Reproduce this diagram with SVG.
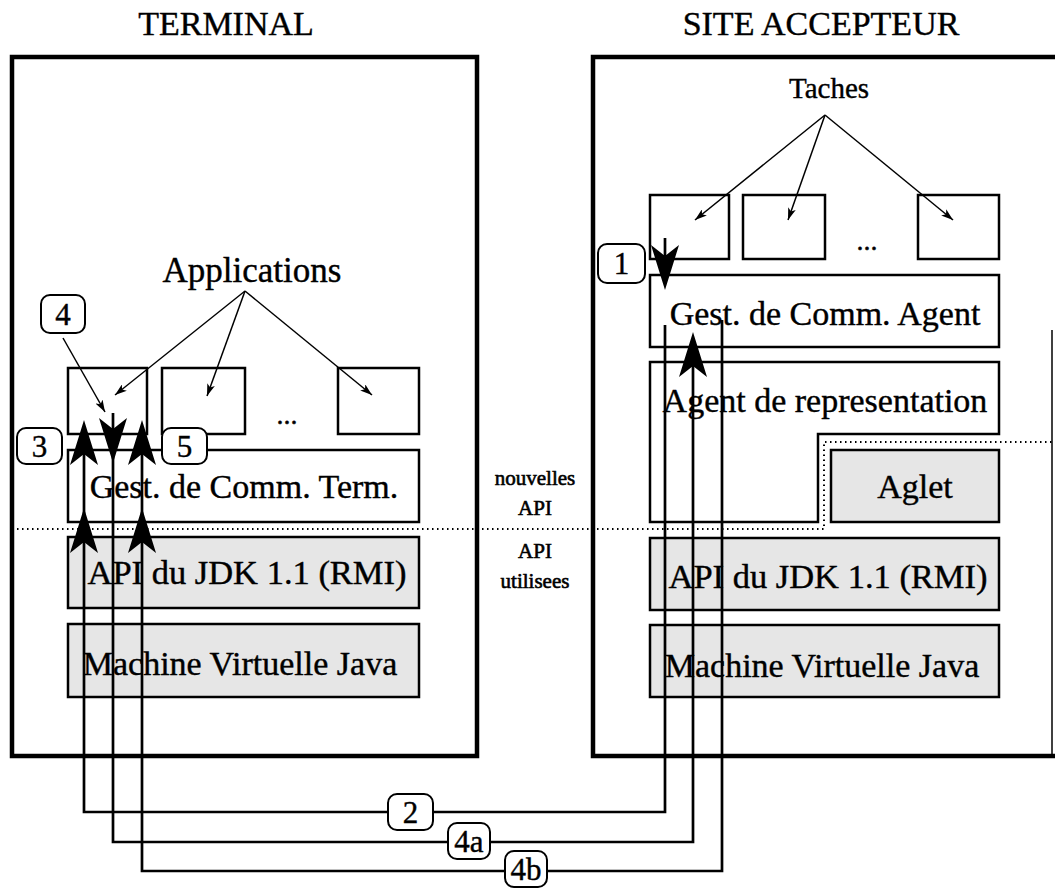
<svg xmlns="http://www.w3.org/2000/svg" xmlns:xlink="http://www.w3.org/1999/xlink" width="1055" height="889" viewBox="0 0 1055 889">
<style>
text{font-family:"Liberation Serif","Times New Roman",serif;fill:#000;text-anchor:middle;stroke:#000;stroke-width:0.4}
.title{font-size:34px}
.box{fill:#fff;stroke:#000;stroke-width:2.5}
.gray{fill:#e6e6e6;stroke:#000;stroke-width:2.5}
.outer{fill:none;stroke:#000;stroke-width:4.5}
.bt{font-size:34px}
.lbl{fill:#fff;stroke:#000;stroke-width:2}
.lt{font-size:31px}
.conn{fill:none;stroke:#000;stroke-width:2.7}
.thin{fill:none;stroke:#000;stroke-width:1.5;marker-end:url(#sm)}
.dot{fill:none;stroke:#000;stroke-width:2;stroke-dasharray:1.5 3.5}
.mid{font-size:21px;stroke-width:0.6}
</style>
<defs>
<marker id="sm" viewBox="0 0 12 8" refX="12" refY="4" markerWidth="12" markerHeight="8" markerUnits="userSpaceOnUse" orient="auto">
<path d="M0,0 L12,4 L0,8 L3,4 Z" fill="#000"/>
</marker>
<path id="ah" d="M0,0 L-14,45 L0,34 L14,45 Z" fill="#000"/>
</defs>
<rect width="1055" height="889" fill="#fff"/>

<g id="titles">
<text class="title" x="226" y="35">TERMINAL</text>
<text class="title" x="821" y="35">SITE ACCEPTEUR</text>
</g>

<g id="terminal">
<rect class="outer" x="12" y="57" width="465" height="699"/>
</g>
<g id="site">
<path class="outer" d="M1055,57 H593 V756 H1055"/>
<line x1="1052" y1="330" x2="1052" y2="756" stroke="#000" stroke-width="1.5"/>
</g>

<g id="api-separator">
<path class="dot" d="M12,529 H824 V442 H1055"/>
<text class="mid" x="535" y="485">nouvelles</text>
<text class="mid" x="535" y="515">API</text>
<text class="mid" x="535" y="558">API</text>
<text class="mid" x="535" y="588">utilisees</text>
</g>

<g id="applications">
<text x="252" y="282" style="font-size:35px">Applications</text>
<rect class="box" x="68" y="368" width="79" height="66"/>
<rect class="box" x="162" y="368" width="83" height="66"/>
<rect class="box" x="338" y="368" width="81" height="66"/>
<text x="287" y="424" style="font-size:28px">...</text>
<line class="thin" x1="245" y1="291" x2="115" y2="395"/>
<line class="thin" x1="245" y1="291" x2="207" y2="396"/>
<line class="thin" x1="245" y1="291" x2="372" y2="395"/>
</g>

<g id="gest-term">
<rect class="box" x="68" y="450" width="351" height="72"/>
<text class="bt" x="244" y="498">Gest. de Comm. Term.</text>
</g>
<g id="api-left">
<rect class="gray" x="68" y="537" width="351" height="71"/>
<text class="bt" x="247" y="584" textLength="319" lengthAdjust="spacingAndGlyphs">API du JDK 1.1 (RMI)</text>
</g>
<g id="jvm-left">
<rect class="gray" x="68" y="624" width="351" height="73"/>
<text class="bt" x="240" y="675">Machine Virtuelle Java</text>
</g>

<g id="taches">
<text x="829" y="98" style="font-size:29px">Taches</text>
<rect class="box" x="650" y="195" width="79" height="64"/>
<rect class="box" x="743" y="195" width="82" height="64"/>
<rect class="box" x="918" y="195" width="81" height="64"/>
<text x="867" y="250" style="font-size:28px">...</text>
<line class="thin" x1="825" y1="115" x2="695" y2="220"/>
<line class="thin" x1="825" y1="115" x2="788" y2="220"/>
<line class="thin" x1="825" y1="115" x2="953" y2="220"/>
</g>

<g id="gest-agent">
<rect class="box" x="650" y="275" width="349" height="72"/>
<text class="bt" x="825" y="325">Gest. de Comm. Agent</text>
</g>
<g id="agent-rep">
<path class="box" d="M650,362 H999 V434 H818 V522 H650 Z"/>
<text class="bt" x="825" y="412">Agent de representation</text>
</g>
<g id="aglet">
<rect class="gray" x="831" y="450" width="168" height="72"/>
<text class="bt" x="915" y="498">Aglet</text>
</g>
<g id="api-right">
<rect class="gray" x="650" y="538" width="349" height="72"/>
<text class="bt" x="828" y="588" textLength="319" lengthAdjust="spacingAndGlyphs">API du JDK 1.1 (RMI)</text>
</g>
<g id="jvm-right">
<rect class="gray" x="650" y="625" width="349" height="72"/>
<text class="bt" x="822" y="677">Machine Virtuelle Java</text>
</g>

<g id="connectors">
<path class="conn" d="M84,430 V812 H665 V325"/>
<path class="conn" d="M113,413 V842 H693 V345"/>
<path class="conn" d="M142,430 V871 H722 V320"/>
<path class="conn" d="M665,238 V280"/>
<line class="thin" x1="63" y1="338" x2="105" y2="412"/>
<use xlink:href="#ah" x="84" y="420"/>
<use xlink:href="#ah" x="142" y="420"/>
<use xlink:href="#ah" x="84" y="508"/>
<use xlink:href="#ah" x="142" y="508"/>
<use xlink:href="#ah" x="693" y="332"/>
<use xlink:href="#ah" transform="translate(113,463) rotate(180)"/>
<use xlink:href="#ah" transform="translate(665,290) rotate(180)"/>
</g>

<g id="labels">
<rect class="lbl" x="41" y="295" width="44" height="38" rx="9"/>
<text class="lt" x="63" y="325">4</text>
<rect class="lbl" x="17" y="428" width="45" height="36" rx="9"/>
<text class="lt" x="39.5" y="457">3</text>
<rect class="lbl" x="162" y="428" width="45" height="36" rx="9"/>
<text class="lt" x="184.5" y="457">5</text>
<rect class="lbl" x="598" y="244" width="47" height="39" rx="9"/>
<text class="lt" x="621.5" y="274">1</text>
<rect class="lbl" x="388" y="794" width="45" height="36" rx="9"/>
<text class="lt" x="410.5" y="823">2</text>
<rect class="lbl" x="448" y="823" width="42" height="36" rx="9"/>
<text class="lt" x="469" y="852">4a</text>
<rect class="lbl" x="505" y="851" width="42" height="36" rx="9"/>
<text class="lt" x="526" y="880">4b</text>
</g>
</svg>
